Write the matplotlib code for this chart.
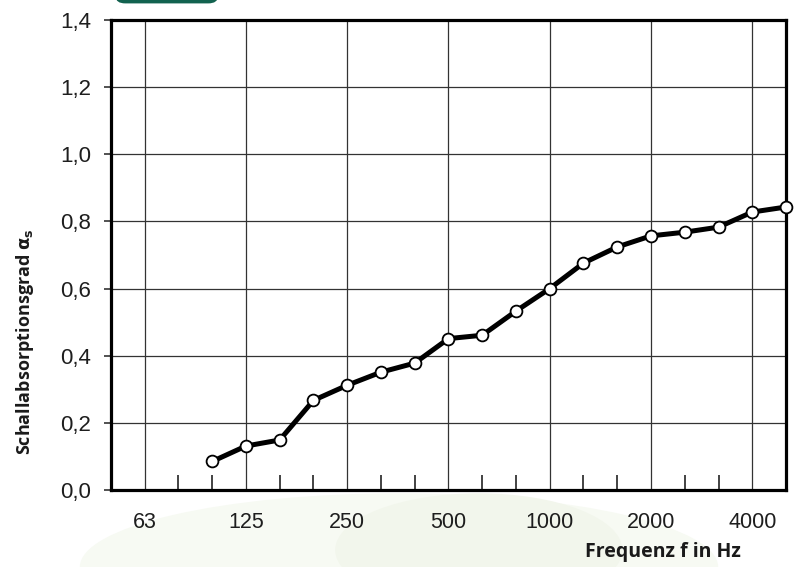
import matplotlib
matplotlib.use("Agg")
import matplotlib.pyplot as plt
from matplotlib.patches import FancyBboxPatch, Ellipse

# Third-octave bands (nominal) spanning the axis
bands = ["50", "63", "80", "100", "125", "160", "200", "250", "315", "400", "500",
         "630", "800", "1000", "1250", "1600", "2000", "2500", "3150", "4000", "5000"]
octave_labels = ["63", "125", "250", "500", "1000", "2000", "4000"]

# Measured bands and absorption values
meas_bands = ["100", "125", "160", "200", "250", "315", "400", "500", "630", "800",
              "1000", "1250", "1600", "2000", "2500", "3150", "4000", "5000"]
alpha = [0.085, 0.131, 0.149, 0.267, 0.312, 0.351, 0.378, 0.451, 0.461, 0.533,
         0.600, 0.676, 0.724, 0.757, 0.768, 0.783, 0.828, 0.843]

y_ticks = [0.0, 0.2, 0.4, 0.6, 0.8, 1.0, 1.2, 1.4]

pos = {b: i for i, b in enumerate(bands)}

fig = plt.figure(figsize=(7.98, 5.67), dpi=100)
fig.patch.set_facecolor("white")

# faint background decoration
bg = fig.add_axes([0, 0, 1, 1], zorder=-10)
bg.set_xlim(0, 1); bg.set_ylim(0, 1); bg.axis("off")
bg.add_patch(Ellipse((0.50, 0.0), 0.80, 0.26, color="#f7faf3", lw=0))
bg.add_patch(Ellipse((0.60, 0.03), 0.36, 0.20, color="#f2f6ec", lw=0))
bg.add_patch(FancyBboxPatch((0.145, 0.994), 0.128, 0.03,
                            boxstyle="round,pad=0,rounding_size=0.012",
                            color="#12624f", lw=0, transform=bg.transAxes, clip_on=False))

ax = fig.add_axes([0.139, 0.1358, 0.846, 0.8289])
ax.set_facecolor("white")

x = [pos[b] for b in meas_bands]
ax.plot(x, alpha, color="black", lw=3.6, marker="o", ms=8.5,
        markerfacecolor="white", markeredgecolor="black", markeredgewidth=1.3,
        zorder=5, clip_on=False)

ax.set_xlim(0, len(bands) - 1)
ax.set_ylim(0, 1.4)

major = [pos[b] for b in octave_labels]
minor = [i for i in range(1, len(bands) - 1) if i not in major]
ax.set_xticks(major)
ax.set_xticklabels(octave_labels)
ax.set_xticks(minor, minor=True)
ax.tick_params(axis="x", which="major", length=0, pad=16, labelsize=15.5,
               labelcolor="#1e1e1e")
ax.tick_params(axis="x", which="minor", direction="in", length=11, width=1.2,
               color="#222222")

ax.set_yticks(y_ticks)
ax.set_yticklabels([f"{v:.1f}".replace(".", ",") for v in y_ticks])
ax.tick_params(axis="y", direction="out", length=5, width=1.2, pad=9,
               labelsize=16, labelcolor="#1e1e1e", color="#333333")

for lab in ax.get_xticklabels() + ax.get_yticklabels():
    lab.set_fontfamily("Liberation Sans")

ax.grid(True, which="major", color="#333333", lw=0.9)
ax.set_axisbelow(True)
for s in ax.spines.values():
    s.set_linewidth(2.3)
    s.set_color("black")

fig.text(0.031, 0.397, r"Schallabsorptionsgrad $\mathbf{\alpha_s}$", rotation=90,
         ha="center", va="center", fontsize=13, fontweight="bold",
         fontfamily="Open Sans", color="#1a1a1a")
fig.text(0.831, 0.027, "Frequenz f in Hz", ha="center", va="center",
         fontsize=14, fontweight="bold", fontfamily="Open Sans", color="#1a1a1a")

fig.savefig("out.png", dpi=100, facecolor="white")
